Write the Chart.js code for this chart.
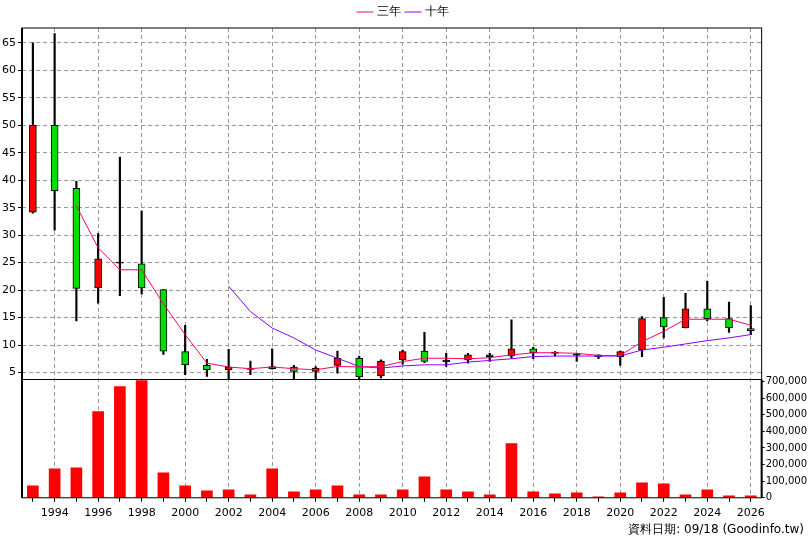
<!DOCTYPE html>
<html><head><meta charset="utf-8">
<script src="https://cdn.jsdelivr.net/npm/chart.js@4"></script>
<style>html,body{margin:0;padding:0;background:#fff}#w{width:808px;height:540px}</style>
</head><body><div id="w"><canvas id="c"></canvas></div>
<script>
const years=[1993,1994,1995,1996,1997,1998,1999,2000,2001,2002,2003,2004,2005,2006,2007,2008,2009,2010,2011,2012,2013,2014,2015,2016,2017,2018,2019,2020,2021,2022,2023,2024,2025,2026];
const openP=[34.2,50,38.5,20.4,25,24.8,20.1,8.8,6.3,5.5,5.7,5.7,6.0,5.2,6.3,7.6,4.4,7.3,8.9,7.1,7.3,7.9,8.0,9.3,8.6,8.3,8.2,7.9,9.1,15.0,13.1,16.6,14.8,13.0];
const closeP=[50,38.1,20.3,25.7,25,20.4,8.9,6.4,5.5,6.0,5.7,6.1,5.2,5.8,7.6,4.2,7.1,8.8,7.0,7.1,8.2,8.2,9.3,8.6,8.6,8.3,7.9,8.8,14.8,13.3,16.6,14.8,13.1,12.6];
const highP=[65,66.7,39.8,30.3,44.2,34.4,20.1,13.6,7.4,9.2,7.1,9.3,6.3,6.1,8.9,8.0,7.3,9.1,12.3,8.5,8.5,8.5,14.6,9.6,8.8,8.5,8.2,8.9,15.2,18.7,19.4,21.6,17.8,17.2];
const lowP=[34,30.9,14.4,17.6,19.0,19.3,8.3,4.6,4.3,3.7,4.6,5.6,3.7,3.7,4.9,3.7,4.0,6.5,6.8,6.1,6.7,7.0,7.6,7.5,8.0,7.0,7.5,6.3,7.9,11.3,13.1,14.4,12.3,11.9];
const ma3=[null,null,35.3,27.7,23.7,23.7,17.5,11.9,6.7,6.0,5.7,6.0,5.7,5.5,6.1,6.0,6.1,7.0,7.6,7.6,7.5,7.7,8.2,8.6,8.6,8.5,8.1,8.1,10.6,12.5,14.7,14.7,14.7,13.6];
const ma10=[null,null,null,null,null,null,null,null,null,20.7,16.1,13.1,11.3,9.1,7.6,6.1,5.8,6.2,6.4,6.4,6.9,7.2,7.5,7.9,8.0,8.0,8.0,8.0,9.1,9.6,10.2,10.8,11.3,11.9];
const volume=[72000,175000,181000,519000,670000,706000,151000,72000,42000,48000,18000,175000,36000,48000,72000,18000,18000,48000,127000,48000,36000,18000,326000,36000,24000,30000,6000,30000,90000,84000,18000,48000,12000,12000];
const priceTicks=[5,10,15,20,25,30,35,40,45,50,55,60,65];
const volTicks=[0,100000,200000,300000,400000,500000,600000,700000];

const labels=years.map(String);
const bodies=years.map((y,i)=>openP[i]===closeP[i]?[openP[i]-0.12,openP[i]+0.12]:[openP[i],closeP[i]]);
const bodyCol=years.map((y,i)=>closeP[i]>openP[i]?'#ff0000':(closeP[i]<openP[i]?'#00e000':'#000'));
const wicks=years.map((y,i)=>[lowP[i],highP[i]]);
const F='"DejaVu Sans", sans-serif';
const deco={id:'deco',afterDraw(ch){const c=ch.ctx,a=ch.chartArea,yv=ch.scales.yv;const sep=Math.round(yv.getPixelForValue(715000))+0.5;
c.save();c.strokeStyle='#000';c.lineWidth=1;c.beginPath();c.moveTo(a.left,sep);c.lineTo(a.right,sep);c.stroke();
c.lineWidth=1;c.strokeRect(a.left,a.top,a.right-a.left,a.bottom-a.top);
c.lineWidth=2;c.beginPath();c.moveTo(a.left,a.top);c.lineTo(a.left,a.bottom);c.moveTo(a.right,sep);c.lineTo(a.right,a.bottom);c.stroke();
c.fillStyle='#000';c.font='12px '+F;c.textAlign='right';c.textBaseline='alphabetic';c.fillText('資料日期: 09/18 (Goodinfo.tw)',804,533);c.restore();}};
new Chart(document.getElementById('c'),{
 data:{labels,datasets:[
  {type:'line',label:'三年',data:ma3,borderColor:'#ff0066',backgroundColor:'#ff0066',borderWidth:1,pointRadius:0,yAxisID:'y',order:0},
  {type:'line',label:'十年',data:ma10,borderColor:'#8800ff',backgroundColor:'#8800ff',borderWidth:1,pointRadius:0,yAxisID:'y',order:0},
  {type:'bar',label:'body',data:bodies,backgroundColor:bodyCol,borderColor:'#000',borderWidth:1,borderSkipped:false,barThickness:7,grouped:false,yAxisID:'y',order:1},
  {type:'bar',label:'wick',data:wicks,backgroundColor:'#000',barThickness:1.5,grouped:false,yAxisID:'y',order:2},
  {type:'bar',label:'vol',data:volume,backgroundColor:'#ff0000',barThickness:11,grouped:false,yAxisID:'yv',order:3}
 ]},
 options:{responsive:true,maintainAspectRatio:false,animation:false,
  layout:{padding:{left:0,right:0,top:0,bottom:15}},
  plugins:{tooltip:{enabled:false},
   legend:{labels:{filter:i=>i.text==='三年'||i.text==='十年',usePointStyle:true,pointStyle:'line',boxWidth:14,font:{family:F,size:12},color:'#000',padding:6}}},
  scales:{
   x:{offset:true,grid:{offset:false,color:c=>years[c.index]%2===0?'#999':'rgba(0,0,0,0)',tickColor:'#000',drawTicks:true,tickLength:4},border:{dash:[4,3]},
      ticks:{autoSkip:false,maxRotation:0,color:'#000',font:{family:F,size:11},padding:5,callback:(v,i)=>years[i]%2===0?years[i]:''}},
   y:{position:'left',min:-17.8,max:67.7,afterBuildTicks:s=>{s.ticks=priceTicks.map(v=>({value:v}));},
      grid:{color:'#999',tickColor:'#000',tickLength:4},border:{dash:[4,3],display:false},
      ticks:{color:'#000',font:{family:F,size:11},padding:2}},
   yv:{position:'right',min:0,max:2830000,afterBuildTicks:s=>{s.ticks=volTicks.map(v=>({value:v}));},
      grid:{drawOnChartArea:false,tickColor:'#000',tickLength:3},border:{display:false},
      ticks:{color:'#000',font:{family:F,size:10},padding:1,callback:v=>v.toLocaleString('en-US')}}
  }}
 ,plugins:[deco]});
</script></body></html>
